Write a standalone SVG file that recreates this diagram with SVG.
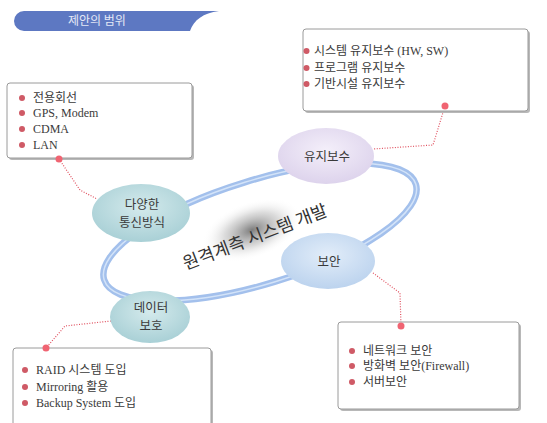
<svg xmlns="http://www.w3.org/2000/svg" width="547" height="423" viewBox="0 0 547 423">
<defs>
<style>
.t{font-family:"Liberation Serif","Noto Sans CJK KR",serif;font-size:12px;fill:#3a3a3a}
.n{font-family:"Noto Sans CJK KR","Liberation Serif",serif;font-size:12.5px;fill:#3a3a3a;text-anchor:middle}
.box{fill:#fff;stroke:#9a9a9a;stroke-width:1}
.sh{fill:#b8b8b8}
.b{fill:#cf5a66}
.dot{fill:#f06472}
.con{fill:none;stroke:#e0505f;stroke-width:1.2;stroke-dasharray:1 1.6}
</style>
<radialGradient id="gLav" cx="50%" cy="40%" r="60%"><stop offset="0" stop-color="#f4effa"/><stop offset="1" stop-color="#ddd3ec"/></radialGradient>
<radialGradient id="gTeal" cx="50%" cy="40%" r="60%"><stop offset="0" stop-color="#d4eaec"/><stop offset="1" stop-color="#a9d0d6"/></radialGradient>
<radialGradient id="gBlue" cx="50%" cy="40%" r="60%"><stop offset="0" stop-color="#e2edf9"/><stop offset="1" stop-color="#bcd3ee"/></radialGradient>
<radialGradient id="gSh" cx="50%" cy="50%" r="50%"><stop offset="0" stop-color="#444" stop-opacity="0.7"/><stop offset="0.55" stop-color="#888" stop-opacity="0.3"/><stop offset="1" stop-color="#fff" stop-opacity="0"/></radialGradient>
<linearGradient id="gLine" x1="0" x2="1"><stop offset="0" stop-color="#6f85c8"/><stop offset="1" stop-color="#a6b2d6"/></linearGradient>
</defs>
<rect width="547" height="423" fill="#fff"/>
<g id="header">
<line x1="180" y1="12.5" x2="547" y2="12.5" stroke="url(#gLine)" stroke-width="1.6"/>
<path d="M24,11 L219,11 C203,13 194,20 190,31 L24,31 A10,10 0 0 1 24,11 Z" fill="#5d78c2"/>
<text x="68" y="25" style="font-family:'Noto Sans CJK KR',serif;font-size:12px;fill:#e4e8f6">제안의 범위</text>
</g>
<g id="ring">
<ellipse cx="260" cy="232" rx="163" ry="52" transform="rotate(-17 260 232)" fill="none" stroke="#a3c0ec" stroke-width="6.5"/>
<ellipse cx="260" cy="232" rx="163" ry="52" transform="rotate(-17 260 232)" fill="none" stroke="#d3e3f8" stroke-width="1.5"/>
</g>
<g id="connectors">
<polyline class="con" points="445,106 433,145 373,149"/>
<polyline class="con" points="59,159 80,190 97,199"/>
<polyline class="con" points="373,273 400,293 401,326"/>
<polyline class="con" points="111,321 65,326 46,348"/>
</g>
<g id="center">
<ellipse cx="252" cy="230" rx="52" ry="28" fill="url(#gSh)" transform="rotate(-20 252 230)"/>
<text x="255" y="243" transform="rotate(-21 255 237)" style="font-family:'Noto Sans CJK KR',serif;font-size:17.5px;fill:#333;text-anchor:middle">원격계측 시스템 개발</text>
</g>
<g id="node-maint">
<ellipse cx="326" cy="156" rx="48" ry="28" fill="url(#gLav)"/>
<text class="n" x="327" y="161">유지보수</text>
</g>
<g id="node-comm">
<ellipse cx="141" cy="213" rx="49" ry="29" fill="url(#gTeal)"/>
<text class="n" x="142" y="209">다양한</text>
<text class="n" x="142" y="227">통신방식</text>
</g>
<g id="node-sec">
<ellipse cx="328" cy="261" rx="47" ry="28" fill="url(#gBlue)"/>
<text class="n" x="329" y="266">보안</text>
</g>
<g id="node-data">
<ellipse cx="150" cy="317" rx="40" ry="26" fill="url(#gTeal)"/>
<text class="n" x="151" y="312">데이터</text>
<text class="n" x="151" y="330">보호</text>
</g>
<g id="box-maint">
<rect class="sh" x="305" y="31" width="225" height="82" rx="3"/>
<rect class="box" x="303" y="29" width="225" height="82" rx="3"/>
<circle class="b" cx="306.5" cy="51" r="3"/><text class="t" x="314" y="55">시스템 유지보수 (HW, SW)</text>
<circle class="b" cx="306.5" cy="68" r="3"/><text class="t" x="314" y="72">프로그램 유지보수</text>
<circle class="b" cx="306.5" cy="84" r="3"/><text class="t" x="314" y="88">기반시설 유지보수</text>
<circle class="dot" cx="445" cy="106" r="3.5"/>
</g>
<g id="box-comm">
<rect class="sh" x="9" y="85" width="185" height="75" rx="3"/>
<rect class="box" x="7" y="83" width="185" height="75" rx="3"/>
<circle class="b" cx="22" cy="98" r="3"/><text class="t" x="33" y="102">전용회선</text>
<circle class="b" cx="22" cy="113" r="3"/><text class="t" x="33" y="117">GPS, Modem</text>
<circle class="b" cx="22" cy="129" r="3"/><text class="t" x="33" y="133">CDMA</text>
<circle class="b" cx="22" cy="145" r="3"/><text class="t" x="33" y="149">LAN</text>
<circle class="dot" cx="59" cy="159" r="3.5"/>
</g>
<g id="box-sec">
<rect class="sh" x="340" y="324" width="181" height="87" rx="3"/>
<rect class="box" x="338" y="322" width="181" height="87" rx="3"/>
<circle class="b" cx="352" cy="351" r="3"/><text class="t" x="363" y="355">네트워크 보안</text>
<circle class="b" cx="352" cy="366" r="3"/><text class="t" x="363" y="370">방화벽 보안(Firewall)</text>
<circle class="b" cx="352" cy="382" r="3"/><text class="t" x="363" y="386">서버보안</text>
<circle class="dot" cx="401" cy="326" r="3.5"/>
</g>
<g id="box-data">
<rect class="sh" x="15" y="350" width="198" height="80" rx="3"/>
<rect class="box" x="13" y="348" width="198" height="80" rx="3"/>
<circle class="b" cx="25" cy="370" r="3"/><text class="t" x="36" y="374">RAID 시스템 도입</text>
<circle class="b" cx="25" cy="387" r="3"/><text class="t" x="36" y="391">Mirroring 활용</text>
<circle class="b" cx="25" cy="403" r="3"/><text class="t" x="36" y="407">Backup System 도입</text>
<circle class="dot" cx="46" cy="348" r="3.5"/>
</g>
</svg>
